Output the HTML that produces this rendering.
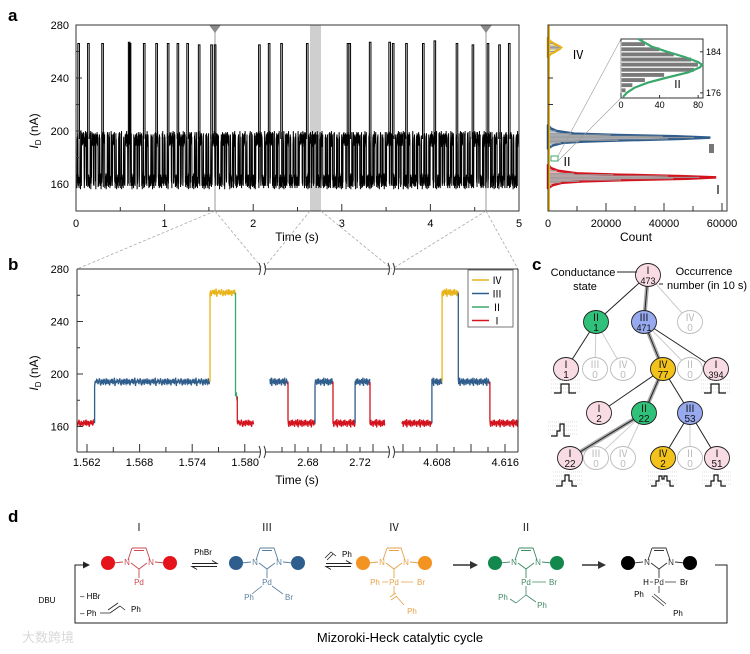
<!DOCTYPE html>
<html><head><meta charset="utf-8">
<style>
html,body{margin:0;padding:0;background:#fff;}
svg{display:block;font-family:"Liberation Sans","Noto Sans CJK SC",sans-serif;}
</style></head>
<body>
<svg id="fig" width="750" height="654" viewBox="0 0 750 654" xmlns="http://www.w3.org/2000/svg">
<g id="ga"></g>
<g id="gh"></g>
<g id="gb"></g>
<g id="gc"></g>
<g id="gd"></g>
</svg>
<script>
// ---------- data ----------
const aSpikeTimes = [0.03,0.14,0.30,0.60,0.61,0.77,0.91,1.04,1.15,1.26,1.39,1.53,1.57,2.07,2.18,2.32,2.61,3.07,3.09,3.32,3.54,3.58,3.73,3.92,4.05,4.30,4.48,4.65,4.78,4.89];
const aSpikeLevels = [266,266,266,267,266,266,266,266,266,266,265,265,265,265,266,266,266,266,266,267,267,266,266,266,268,266,265,266,265,266];
const aDwellMs = [14,9,22,6,11,30,8,17,5,12,26,7,10,19,9,15,6,24,13,8,20,11,7,16,28,9,12,5,18,10,8,21,14,6,25,11];
const noise = [1.5,-2,0.5,3,-1,-3,2,-0.5,1,-2.5,2.5,0,-1.5,3,-2,1,-0.5,2,-3,0.5,1.5,-1,2.5,-2,0,3.5,-3.5,1,-1,2];
const aLevelLow = 162, aLevelHigh = 194;
const aYTicks = [160,200,240,280];
const aXTicks = [0,1,2,3,4,5];
const histRedLevels = [157,159,161,162,163,164,165,166,167,168,170,172,174];
const histRedCounts = [200,1500,5000,12000,28000,48000,58000,46000,25000,10000,3500,1000,200];
const histBlueLevels = [187,189,191,192,193,194,195,196,197,198,200,202,204];
const histBlueCounts = [200,1500,5000,12000,27000,46000,56000,44000,24000,9000,3000,900,200];
const histYellowLevels = [256,258,260,262,263,264,266,268,270];
const histYellowCounts = [100,800,2500,4000,4500,3800,2000,600,100];
const hXTicks = [0,20000,40000,60000];
const insetLevels = [185.5,184.5,183.5,182.5,181.5,180.5,179.5,178.5,177.5,176.5];
const insetCounts = [25,40,55,73,80,76,45,25,12,5];
const insetFitLevels = [186.5,185,184,183,182,181.5,181,180,179,178,177,176,175.2];
const insetFitCounts = [18,32,48,66,80,84,82,70,48,28,14,6,2];
const bLegendNames = ['Ⅳ','Ⅲ','Ⅱ','Ⅰ'];
const bYTicks = [160,200,240,280];
const bXTickLabels = ['1.562','1.568','1.574','1.580','2.68','2.72','4.608','4.616'];
const bXTickValues = [1.562,1.568,1.574,1.580,2.68,2.72,4.608,4.616];
const bSeg1 = [[1.5609,1.5629,1],[1.5629,1.5760,3],[1.5760,1.5789,4],[1.5789,1.5791,2],[1.5791,1.5810,1]];
const bSeg2 = [[2.6508,2.6646,3],[2.6646,2.6854,1],[2.6854,2.6992,3],[2.6992,2.7162,1],[2.7162,2.7277,3],[2.7277,2.7392,1]];
const bSeg3 = [[4.6039,4.6074,1],[4.6074,4.6086,3],[4.6086,4.6105,4],[4.6105,4.6142,3],[4.6142,4.6175,1]];
const bStateLevels = {1:162.5,2:183,3:194,4:262};
</script>
<script>
const NS='http://www.w3.org/2000/svg';
function mk(parent,tag,attrs,txt){const e=document.createElementNS(NS,tag);for(const k in attrs)e.setAttribute(k,attrs[k]);if(txt!==undefined)e.textContent=txt;parent.appendChild(e);return e;}
const RED='#d3141e',BLUE='#2f5d8c',GREEN='#3aa86c',YEL='#e9b31a';

// ================= Panel a =================
const ga=document.getElementById('ga');
const ax=t=>76+t/5*443, ay=v=>25+(280-v)/40*53;
let e=mk(ga,'text',{x:8,y:21,'font-size':17,'font-weight':'bold'},'a');

e=mk(ga,'rect',{x:310,y:25,width:11,height:186,fill:'#cfcfcf'});

[215,486].forEach(x=>{
  e=mk(ga,'line',{x1:x,y1:25,x2:x,y2:211,stroke:'#bbb','stroke-width':1.5});
  
});
{
  let d='',t=0,i=0,st=0,k=0;
  while(t<5){
    const dw=aDwellMs[i%aDwellMs.length]/1000;const lvl=st?aLevelHigh:aLevelLow;
    const end=Math.min(5,t+dw);
    for(let tt=t;tt<end;tt+=0.002){d+=(d?'L':'M')+ax(tt).toFixed(2)+','+ay(lvl+1.7*noise[k%noise.length]).toFixed(2);k++;}
    t=end;st=1-st;i++;
  }
  e=mk(ga,'path',{d:d,fill:'none',stroke:'#000','stroke-width':1});
  
}
aSpikeTimes.forEach((t,i)=>{
  const x=ax(t);
  e=mk(ga,'path',{d:`M${x-0.8},${ay(aLevelHigh)}L${x-0.8},${ay(aSpikeLevels[i])}L${x+0.8},${ay(aSpikeLevels[i])}L${x+0.8},${ay(aLevelHigh)}`,fill:'none',stroke:'#000','stroke-width':1});
  
});
[215,486].forEach(x=>{
  e=mk(ga,'path',{d:`M${x-6},25L${x+6},25L${x},33Z`,fill:'#8a8a8a'});
  
});
e=mk(ga,'rect',{x:76,y:25,width:443,height:186,fill:'none',stroke:'#333','stroke-width':1});

aYTicks.forEach(v=>{
  mk(ga,'line',{x1:76,y1:ay(v),x2:82,y2:ay(v),stroke:'#333'});
  e=mk(ga,'text',{x:69,y:ay(v)+4,'font-size':11,'text-anchor':'end'},v);
  
});
[180,220,260].forEach(v=>mk(ga,'line',{x1:76,y1:ay(v),x2:79,y2:ay(v),stroke:'#333'}));
for(let t=0;t<=5;t+=0.5){mk(ga,'line',{x1:ax(t),y1:211,x2:ax(t),y2:(t%1===0)?204:207,stroke:'#333'});}
aXTicks.forEach(t=>{
  e=mk(ga,'text',{x:ax(t),y:227,'font-size':11,'text-anchor':'middle'},t);
  
});
e=mk(ga,'text',{x:297,y:241,'font-size':12,'text-anchor':'middle'},'Time (s)');

e=mk(ga,'text',{x:0,y:0,'font-size':12,'text-anchor':'middle',transform:'translate(38,131) rotate(-90)'});

mk(e,'tspan',{'font-style':'italic'},'I');mk(e,'tspan',{'font-size':8,dy:3},'D');mk(e,'tspan',{dy:-3},' (nA)');

// ================= Histogram =================
const gh=document.getElementById('gh');
const hx=c=>548+c/60000*174, hy=ay;
function histShape(levels,counts,col,name){
  let d=`M${hx(0)},${hy(levels[0])}`;
  levels.forEach((l,i)=>d+=`L${hx(counts[i]).toFixed(1)},${hy(l).toFixed(1)}`);
  d+=`L${hx(0)},${hy(levels[levels.length-1])}Z`;
  let p=mk(gh,'path',{d:d,fill:col,'fill-opacity':0.3,stroke:col,'stroke-width':2.5});
  
  levels.forEach((l,i)=>{const r=mk(gh,'rect',{x:hx(0),y:hy(l)-0.5,width:hx(counts[i]*0.9)-hx(0),height:1,fill:'#999'});
    });
}
histShape(histRedLevels,histRedCounts,RED,'hist-state-i');
histShape(histBlueLevels,histBlueCounts,BLUE,'hist-state-iii');
histShape(histYellowLevels,histYellowCounts,YEL,'hist-state-iv');
e=mk(gh,'line',{x1:549,y1:25,x2:549,y2:211,stroke:YEL,'stroke-width':2});

e=mk(gh,'rect',{x:548,y:25,width:179,height:186,fill:'none',stroke:'#333'});

[220,240].forEach(v=>mk(gh,'line',{x1:548,y1:hy(v),x2:553,y2:hy(v),stroke:'#333'}));
for(let c=0;c<=60000;c+=10000)mk(gh,'line',{x1:hx(c),y1:211,x2:hx(c),y2:(c%20000===0)?203:206,stroke:'#333'});
hXTicks.forEach(c=>{e=mk(gh,'text',{x:hx(c),y:227,'font-size':11,'text-anchor':'middle'},c);
  });
e=mk(gh,'text',{x:636,y:241,'font-size':12,'text-anchor':'middle'},'Count');

[['Ⅳ',572,59,'#333'],['Ⅱ',561,166,'#333'],['Ⅰ',712,194,'#333']].forEach(a=>{
  e=mk(gh,'text',{x:a[1],y:a[2],'font-size':12},a[0]);});
e=mk(gh,'rect',{x:709,y:144,width:5,height:9,fill:'#777'});

e=mk(gh,'rect',{x:551,y:156,width:7,height:5,fill:'none',stroke:GREEN});

mk(gh,'line',{x1:558,y1:156,x2:621,y2:39,stroke:'#999','stroke-width':0.6});
mk(gh,'line',{x1:558,y1:161,x2:621,y2:98,stroke:'#999','stroke-width':0.6});
const ix=c=>621+c/85*82, iy=v=>39+(186.5-v)/11.5*59;
e=mk(gh,'rect',{x:621,y:39,width:82,height:59,fill:'#fff',stroke:'#333'});

insetLevels.forEach((l,i)=>{e=mk(gh,'rect',{x:621,y:iy(l)-2.2,width:ix(insetCounts[i])-621,height:4.4,fill:'#7a7a7a',stroke:'#fff','stroke-width':0.5});
  });
{let d='';insetFitLevels.forEach((l,i)=>d+=(i?'L':'M')+ix(insetFitCounts[i]).toFixed(1)+','+iy(l).toFixed(1));
 e=mk(gh,'path',{d:d,fill:'none',stroke:GREEN,'stroke-width':2.2});}
[0,40,80].forEach(c=>{mk(gh,'line',{x1:ix(c),y1:98,x2:ix(c),y2:95,stroke:'#333'});
  e=mk(gh,'text',{x:ix(c),y:108,'font-size':9,'text-anchor':'middle'},c);});
[184,176].forEach(v=>{mk(gh,'line',{x1:703,y1:iy(v),x2:700,y2:iy(v),stroke:'#333'});
  e=mk(gh,'text',{x:706,y:iy(v)+3,'font-size':9},v);});
e=mk(gh,'text',{x:672,y:88,'font-size':11},'Ⅱ');

// ================= Panel b =================
const gb=document.getElementById('gb');
const pieces=[{t0:1.5609,t1:1.5810,x0:77,x1:254,seg:bSeg1},{t0:2.6508,t1:2.7392,x0:270,x1:385,seg:bSeg2},{t0:4.6039,t1:4.6175,x0:402,x1:518,seg:bSeg3}];
function bx(t){for(const p of pieces){if(t>=p.t0-1e-9&&t<=p.t1+1e-9)return p.x0+(t-p.t0)/(p.t1-p.t0)*(p.x1-p.x0);}return null;}
const by=v=>269+(280-v)/40*52.5;
const stateCol={1:RED,2:GREEN,3:BLUE,4:YEL};
[[215,211,77,269],[215,211,263,269],[310,211,263,269],[321,211,392,269],[486,211,392,269],[486,211,518,269]].forEach(l=>{
  e=mk(gb,'line',{x1:l[0],y1:l[1],x2:l[2],y2:l[3],stroke:'#aaa','stroke-width':0.8,'stroke-dasharray':'3,2'});
  });
e=mk(gb,'text',{x:8,y:270,'font-size':17,'font-weight':'bold'},'b');
let k2=0;
pieces.forEach((p,pi)=>{
  let prev=null;
  p.seg.forEach(s=>{
    const lvl=bStateLevels[s[2]];let d='';
    if(prev!==null)d=`M${bx(s[0]).toFixed(1)},${by(prev)}`;
    for(let t=s[0];t<=s[1];t+=(p.t1-p.t0)/260){d+=(d?'L':'M')+bx(t).toFixed(1)+','+by(lvl+noise[k2%noise.length]*0.9).toFixed(1);k2++;}
    e=mk(gb,'path',{d:d,fill:'none',stroke:stateCol[s[2]],'stroke-width':1.3});
    
    prev=lvl;
  });
});
e=mk(gb,'path',{d:'M77,269L260,269M266,269L389,269M395,269L518,269M77,269L77,452M77,452L260,452M266,452L389,452M395,452L518,452M518,269L518,452',fill:'none',stroke:'#333'});

[263,392].forEach(x=>[269,452].forEach(y=>{
  e=mk(gb,'path',{d:`M${x-4},${y+6}q3,-6 0,-12M${x+1},${y+6}q3,-6 0,-12`,fill:'none',stroke:'#333'});
  }));
bYTicks.forEach(v=>{mk(gb,'line',{x1:77,y1:by(v),x2:83,y2:by(v),stroke:'#333'});
  e=mk(gb,'text',{x:69,y:by(v)+4,'font-size':11,'text-anchor':'end'},v);});
[180,220,260].forEach(v=>mk(gb,'line',{x1:77,y1:by(v),x2:80,y2:by(v),stroke:'#333'}));
bXTickValues.forEach((t,i)=>{const x=bx(t);
  e=mk(gb,'text',{x:x,y:466,'font-size':11,'text-anchor':'middle'},bXTickLabels[i]);});
for(let x=87;x<254;x+=26.3)mk(gb,'line',{x1:x,y1:452,x2:x,y2:(Math.round((x-87)/26.3)%2===0)?444:447,stroke:'#333'});
[282,295,308,321,334,347,360,373].forEach((x,i)=>mk(gb,'line',{x1:x,y1:452,x2:x,y2:i%2?444:447,stroke:'#333'}));
[403,420,437,454,471,488,505].forEach((x,i)=>mk(gb,'line',{x1:x,y1:452,x2:x,y2:i%2?447:444,stroke:'#333'}));
e=mk(gb,'text',{x:297,y:484,'font-size':12,'text-anchor':'middle'},'Time (s)');
e=mk(gb,'text',{x:0,y:0,'font-size':12,'text-anchor':'middle',transform:'translate(38,373) rotate(-90)'});

mk(e,'tspan',{'font-style':'italic'},'I');mk(e,'tspan',{'font-size':8,dy:3},'D');mk(e,'tspan',{dy:-3},' (nA)');
const lg=mk(gb,'g',{});
mk(lg,'rect',{x:468,y:270,width:45,height:57,fill:'#fff',stroke:'#555','stroke-width':0.8});
[YEL,BLUE,GREEN,RED].forEach((c,i)=>{const y=280+i*13.5;
  e=mk(lg,'line',{x1:472,y1:y,x2:489,y2:y,stroke:c,'stroke-width':1.6});
  e=mk(lg,'text',{x:492,y:y+4,'font-size':10},bLegendNames[i]);});

// ================= Panel c =================
const gc=document.getElementById('gc');
e=mk(gc,'text',{x:532,y:270,'font-size':17,'font-weight':'bold'},'c');
const PINK='#f9dbe4',CG='#2fc07a',CB='#97a9ef',CY='#f3c31b';
const nodes={
 r:[648,275,'Ⅰ','473',PINK,0],
 a1:[596,322,'Ⅱ','1',CG,0],a2:[644,322,'Ⅲ','471',CB,0],a3:[690,322,'Ⅳ','0',null,1],
 b1:[566,369,'Ⅰ','1',PINK,0],b2:[595,369,'Ⅲ','0',null,1],b3:[623,369,'Ⅳ','0',null,1],b4:[663,369,'Ⅳ','77',CY,0],b5:[690,369,'Ⅱ','0',null,1],b6:[716,369,'Ⅰ','394',PINK,0],
 c1:[599,413,'Ⅰ','2',PINK,0],c2:[644,413,'Ⅱ','22',CG,0],c3:[690,413,'Ⅲ','53',CB,0],
 d1:[570,458,'Ⅰ','22',PINK,0],d2:[596,458,'Ⅲ','0',null,1],d3:[623,458,'Ⅳ','0',null,1],d4:[663,458,'Ⅳ','2',CY,0],d5:[690,458,'Ⅱ','0',null,1],d6:[717,458,'Ⅰ','51',PINK,0]};
const edges=[['r','a1',0],['r','a2',2],['r','a3',1],['a1','b1',0],['a1','b2',1],['a1','b3',1],['a2','b4',2],['a2','b5',1],['a2','b6',0],
 ['b4','c1',0],['b4','c2',2],['b4','c3',0],['c2','d1',2],['c2','d2',1],['c2','d3',1],['c3','d4',0],['c3','d5',1],['c3','d6',0]];
edges.forEach(ed=>{const a=nodes[ed[0]],b=nodes[ed[1]];
  if(ed[2]===2){e=mk(gc,'line',{x1:a[0],y1:a[1],x2:b[0],y2:b[1],stroke:'#aaa','stroke-width':4});}
  e=mk(gc,'line',{x1:a[0],y1:a[1],x2:b[0],y2:b[1],stroke:ed[2]===1?'#ccc':'#222','stroke-width':1});
  });
for(const id in nodes){const n=nodes[id];const g=mk(gc,'g',{});
  
  mk(g,'ellipse',{cx:n[0],cy:n[1],rx:12.5,ry:11.5,fill:n[5]?'#fff':n[4],stroke:n[5]?'#bbb':'#222','stroke-width':0.9});
  const col=n[5]?'#bbb':'#111';
  mk(g,'text',{x:n[0],y:n[1]-1,'font-size':10,'text-anchor':'middle',fill:col},n[2]);
  mk(g,'text',{x:n[0],y:n[1]+9,'font-size':n[3].length>2?9:10,'text-anchor':'middle',fill:col},n[3]);}
e=mk(gc,'text',{x:583,y:276,'font-size':11,'text-anchor':'middle'},'Conductance');
mk(gc,'text',{x:585,y:290,'font-size':11,'text-anchor':'middle'},'state');
mk(gc,'line',{x1:617,y1:272,x2:637,y2:272,stroke:'#222'});
e=mk(gc,'text',{x:704,y:275,'font-size':11,'text-anchor':'middle'},'Occurrence');
mk(gc,'text',{x:707,y:289,'font-size':11,'text-anchor':'middle'},'number (in 10 s)');
mk(gc,'line',{x1:659,y1:284,x2:663,y2:284,stroke:'#222'});
function glyph(cx,cy,shape){const g=mk(gc,'g',{});
  for(let i=0;i<4;i++)mk(g,'line',{x1:cx-15,y1:cy-8+i*4,x2:cx+15,y2:cy-8+i*4,stroke:'#bbb','stroke-width':0.6,'stroke-dasharray':'1,1'});
  mk(g,'path',{d:shape(cx,cy),fill:'none',stroke:'#111','stroke-width':1.2});}
const sq=(x,y)=>`M${x-12},${y+5}h7v-9h8v9h7`;
const st2=(x,y)=>`M${x-12},${y+6}h6v-5h3v-7h4v12h6`;
const st3=(x,y)=>`M${x-12},${y+6}h6v-5h3v-6h4v6h3v5h5`;
const st4=(x,y)=>`M${x-12},${y+6}h5v-5h3v-5h3v3h2v-3h3v5h3v5h4`;
glyph(566,388,sq);glyph(716,388,sq);glyph(563,430,st2);glyph(568,480,st3);glyph(663,480,st4);glyph(717,480,st3);

// ================= Panel d =================
const gd=document.getElementById('gd');
e=mk(gd,'text',{x:8,y:522,'font-size':17,'font-weight':'bold'},'d');
function mol(cx,col,bead,label,name){const g=mk(gd,'g',{});
  mk(g,'text',{x:cx,y:531,'font-size':11,'text-anchor':'middle',fill:'#222'},label);
  mk(g,'path',{d:`M${cx-7},548L${cx+7},548L${cx+11},560M${cx-7},548L${cx-11},560M${cx-5},550.5L${cx+5},550.5M${cx-8},563L${cx},569L${cx+8},563M${cx},569L${cx},578`,fill:'none',stroke:col,'stroke-width':0.9});
  mk(g,'text',{x:cx-12,y:565,'font-size':8,'text-anchor':'middle',fill:col},'N');
  mk(g,'text',{x:cx+12,y:565,'font-size':8,'text-anchor':'middle',fill:col},'N');
  mk(g,'line',{x1:cx-16,y1:562,x2:cx-26,y2:563,stroke:col,'stroke-width':0.9});
  mk(g,'line',{x1:cx+16,y1:562,x2:cx+26,y2:563,stroke:col,'stroke-width':0.9});
  mk(g,'ellipse',{cx:cx-31,cy:563,rx:7,ry:7,fill:bead});
  mk(g,'ellipse',{cx:cx+31,cy:563,rx:7,ry:7,fill:bead});
  mk(g,'text',{x:cx,y:585,'font-size':8,'text-anchor':'middle',fill:col},'Pd');
  return g;}
let g=mol(139,'#c94a50','#e5141a','Ⅰ','complex-i');
g=mol(267,'#5a7f9e','#2e5e8e','Ⅲ','complex-iii');
mk(g,'path',{d:'M262,586L252,594M272,586L283,594',stroke:'#5a7f9e',fill:'none','stroke-width':0.8});
mk(g,'text',{x:249,y:600,'font-size':8,'text-anchor':'middle',fill:'#5a7f9e'},'Ph');
mk(g,'text',{x:289,y:600,'font-size':8,'text-anchor':'middle',fill:'#5a7f9e'},'Br');
g=mol(394,'#e6a24a','#f39322','Ⅳ','complex-iv');
mk(g,'path',{d:'M382,582h6M401,582h12M394,586v8M390,597l6,-4M391,600l6,-4M396,596l8,9',stroke:'#e6a24a',fill:'none','stroke-width':0.8});
mk(g,'text',{x:375,y:585,'font-size':8,'text-anchor':'middle',fill:'#e6a24a'},'Ph');
mk(g,'text',{x:421,y:585,'font-size':8,'text-anchor':'middle',fill:'#e6a24a'},'Br');
mk(g,'text',{x:412,y:614,'font-size':8,'text-anchor':'middle',fill:'#e6a24a'},'Ph');
g=mol(526,'#3f8a66','#13884d','Ⅱ','complex-ii');
mk(g,'path',{d:'M532,582h14M526,586v9M526,595l-10,8M526,595l10,7M516,603l-6,-4',stroke:'#3f8a66',fill:'none','stroke-width':0.8});
mk(g,'text',{x:553,y:585,'font-size':8,'text-anchor':'middle',fill:'#3f8a66'},'Br');
mk(g,'text',{x:503,y:600,'font-size':8,'text-anchor':'middle',fill:'#3f8a66'},'Ph');
mk(g,'text',{x:542,y:608,'font-size':8,'text-anchor':'middle',fill:'#3f8a66'},'Ph');
g=mol(659,'#333','#000','','complex-final');
mk(g,'path',{d:'M650,582h3M665,582h11M659,586v7M652,596l12,10M654,594l12,10',stroke:'#333',fill:'none','stroke-width':0.8});
mk(g,'text',{x:646,y:585,'font-size':8,'text-anchor':'middle'},'H');
mk(g,'text',{x:684,y:585,'font-size':8,'text-anchor':'middle'},'Br');
mk(g,'text',{x:639,y:597,'font-size':8,'text-anchor':'middle'},'Ph');
mk(g,'text',{x:678,y:616,'font-size':8,'text-anchor':'middle'},'Ph');
function eqArrow(x0,x1,y,name){const g=mk(gd,'g',{});
  mk(g,'path',{d:`M${x0},${y-1.5}H${x1}l-5,-3M${x1},${y+1.5}H${x0}l5,3`,fill:'none',stroke:'#222','stroke-width':1});}
eqArrow(192,217,565,'equilibrium-arrow-1');eqArrow(326,351,565,'equilibrium-arrow-2');
e=mk(gd,'text',{x:203,y:555,'font-size':8,'text-anchor':'middle'},'PhBr');
mk(gd,'path',{d:'M325,558l6,-6l5,4M327,560l6,-6',fill:'none',stroke:'#222','stroke-width':0.8});
e=mk(gd,'text',{x:342,y:557,'font-size':8},'Ph');
[[453,478],[582,606]].forEach(a=>{e=mk(gd,'path',{d:`M${a[0]},565H${a[1]-6}`,stroke:'#333','stroke-width':1.5});
  mk(gd,'path',{d:`M${a[1]},565l-8,-4v8z`,fill:'#333'});});
e=mk(gd,'path',{d:'M715,565H727V623H75V565H84',fill:'none',stroke:'#222','stroke-width':1});
mk(gd,'path',{d:'M90,565l-7,-3.5v7z',fill:'#222'});
e=mk(gd,'text',{x:47,y:603,'font-size':8,'text-anchor':'middle'},'DBU');
e=mk(gd,'text',{x:80,y:599,'font-size':8},'– HBr');
e=mk(gd,'text',{x:80,y:616,'font-size':8},'– Ph');
mk(gd,'path',{d:'M100,613l10,0l10,-7M108,610l10,-7M120,606l5,4',fill:'none',stroke:'#222','stroke-width':0.8});
mk(gd,'text',{x:131,y:612,'font-size':8},'Ph');
e=mk(gd,'text',{x:400,y:642,'font-size':13,'text-anchor':'middle'},'Mizoroki-Heck catalytic cycle');
e=mk(gd,'text',{x:22,y:642,'font-size':13,fill:'#d8d8d8'},'大数跨境');
</script>
</body></html>
